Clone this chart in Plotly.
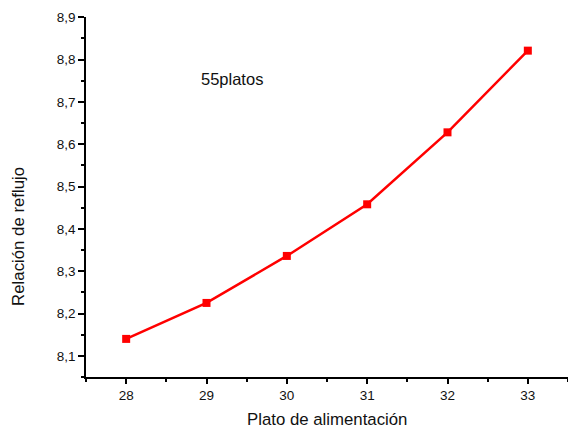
import plotly.graph_objects as go

# Feed plate position vs. reflux ratio for a 55-plate column
feed_plate = [28, 29, 30, 31, 32, 33]
reflux_ratio = [8.140, 8.225, 8.336, 8.458, 8.628, 8.821]

x_ticks = [28, 29, 30, 31, 32, 33]
y_ticks = [8.1, 8.2, 8.3, 8.4, 8.5, 8.6, 8.7, 8.8, 8.9]

FONT = "Liberation Sans, Arial, Helvetica, sans-serif"

fig = go.Figure()
fig.add_trace(go.Scatter(
    x=feed_plate, y=reflux_ratio,
    mode="lines+markers",
    line=dict(color="#ff0000", width=2.5),
    marker=dict(symbol="square", size=8, color="#ff0000"),
    showlegend=False,
))

axis_common = dict(
    showline=True, linecolor="black", linewidth=1.5,
    ticks="outside", tickcolor="black", tickwidth=1.5,
    showgrid=False, zeroline=False, mirror=False,
    tickfont=dict(family=FONT, size=13.5, color="#111111"),
)

fig.update_xaxes(
    range=[27.5, 33.5],
    tickvals=x_ticks, ticktext=[str(v) for v in x_ticks],
    ticklen=5,
    minor=dict(tickvals=[27.5, 28.5, 29.5, 30.5, 31.5, 32.5, 33.5],
               ticks="outside", ticklen=3, tickcolor="black", tickwidth=1.5),
    **axis_common,
)
fig.update_yaxes(
    range=[8.05, 8.9005],
    tickvals=y_ticks, ticktext=[f"{v:.1f}".replace(".", ",") for v in y_ticks],
    ticklen=6,
    minor=dict(tickvals=[8.05, 8.15, 8.25, 8.35, 8.45, 8.55, 8.65, 8.75, 8.85],
               ticks="outside", ticklen=3, tickcolor="black", tickwidth=1.5),
    **axis_common,
)

fig.add_annotation(
    text="55platos", x=29.32, y=8.755, xref="x", yref="y",
    showarrow=False, xanchor="center", yanchor="middle",
    font=dict(family=FONT, size=16.5, color="#111111"),
)
fig.add_annotation(
    text="Plato de alimentación", x=0.5, y=-0.117, xref="paper", yref="paper",
    showarrow=False, xanchor="center", yanchor="middle",
    font=dict(family=FONT, size=16.8, color="#111111"),
)
fig.add_annotation(
    text="Relación de reflujo", x=-0.1405, y=0.39, xref="paper", yref="paper",
    showarrow=False, xanchor="center", yanchor="middle", textangle=-90,
    font=dict(family=FONT, size=16.8, color="#111111"),
)

fig.update_layout(
    width=568, height=428,
    margin=dict(l=86, r=0, t=17, b=51),
    paper_bgcolor="white", plot_bgcolor="white",
)

fig.write_html("out.html")
